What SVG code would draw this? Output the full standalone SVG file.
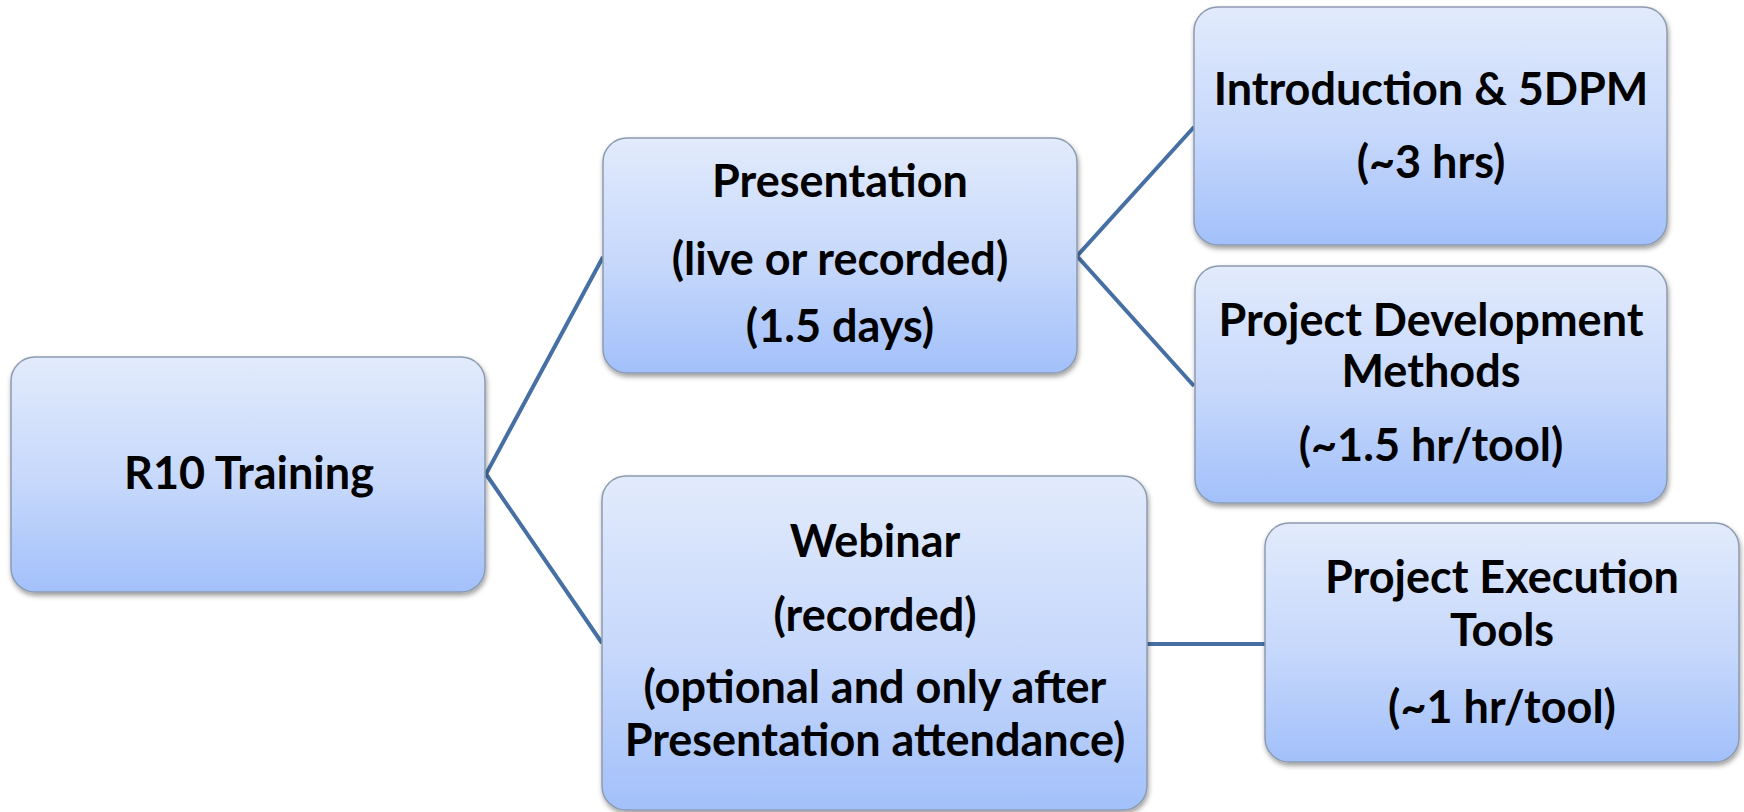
<svg xmlns="http://www.w3.org/2000/svg" width="1744" height="812" viewBox="0 0 1744 812">
  <defs>
    <linearGradient id="boxFill" x1="0" y1="0" x2="0" y2="1">
      <stop offset="0" stop-color="#e2ebfc"/>
      <stop offset="0.55" stop-color="#c5d7fb"/>
      <stop offset="1" stop-color="#a2c0fa"/>
    </linearGradient>
    <filter id="shadow" x="-5%" y="-5%" width="112%" height="115%">
      <feDropShadow dx="1" dy="3" stdDeviation="2.5" flood-color="#000" flood-opacity="0.38"/>
    </filter>
  </defs>
  <style>
    .box { fill: url(#boxFill); stroke: #8d9bb0; stroke-width: 1.5; filter: url(#shadow); }
    .label { font-family: Lato, "Open Sans", "Liberation Sans", sans-serif; font-weight: 700; font-size: 45px; fill: #000; text-anchor: middle; }
    .link { fill: none; stroke: #4670a4; stroke-width: 4; stroke-linejoin: miter; }
  </style>
  <rect width="1744" height="812" fill="#ffffff"/>

  <!-- connectors -->
  <g id="connectors">
    <polyline class="link" points="603,257 486,474 602,643"/>
    <polyline class="link" points="1194,127 1077,256 1194,386"/>
    <line class="link" x1="1147" y1="644" x2="1265" y2="644"/>
  </g>

  <!-- root -->
  <g id="node-r10-training">
    <rect class="box" x="11" y="357" width="474" height="235" rx="24"/>
    <text class="label" x="249" y="489">R10 Training</text>
  </g>

  <!-- first level -->
  <g id="node-presentation">
    <rect class="box" x="603" y="138" width="474" height="235" rx="24"/>
    <text class="label" x="840" y="197">Presentation</text>
    <text class="label" x="840" y="275">(live or recorded)</text>
    <text class="label" x="840" y="342">(1.5 days)</text>
  </g>
  <g id="node-webinar">
    <rect class="box" x="602" y="476" width="545" height="334" rx="24"/>
    <text class="label" x="875" y="557">Webinar</text>
    <text class="label" x="875" y="631">(recorded)</text>
    <text class="label" x="875" y="703">(optional and only after</text>
    <text class="label" x="875" y="756">Presentation attendance)</text>
  </g>

  <!-- second level -->
  <g id="node-introduction">
    <rect class="box" x="1194" y="7" width="473" height="238" rx="24"/>
    <text class="label" x="1431" y="105">Introduction &amp; 5DPM</text>
    <text class="label" x="1431" y="178">(~3 hrs)</text>
  </g>
  <g id="node-project-development">
    <rect class="box" x="1195" y="266" width="472" height="237" rx="24"/>
    <text class="label" x="1431" y="336">Project Development</text>
    <text class="label" x="1431" y="387">Methods</text>
    <text class="label" x="1431" y="461">(~1.5 hr/tool)</text>
  </g>
  <g id="node-project-execution">
    <rect class="box" x="1265" y="523" width="474" height="239" rx="24"/>
    <text class="label" x="1502" y="593">Project Execution</text>
    <text class="label" x="1502" y="646">Tools</text>
    <text class="label" x="1502" y="723">(~1 hr/tool)</text>
  </g>
</svg>
